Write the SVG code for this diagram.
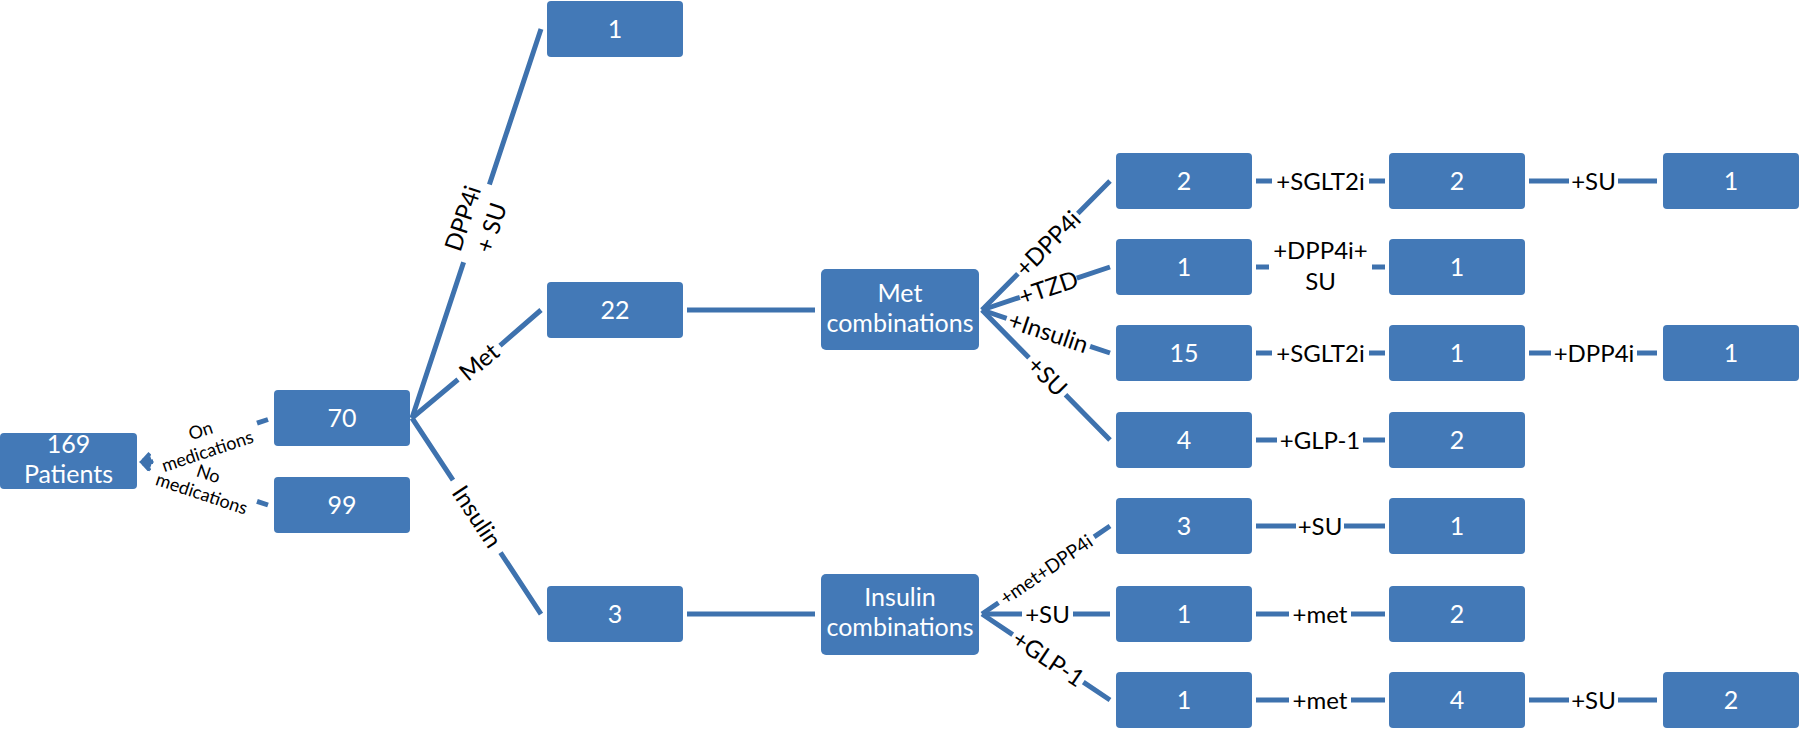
<svg xmlns="http://www.w3.org/2000/svg" width="1800" height="729" viewBox="0 0 1800 729">
<style>
.node rect{fill:#4379B7;}
.node text{fill:#ffffff;font-family:Lato,"Liberation Sans",sans-serif;font-size:25px;text-anchor:middle;}
.conn{stroke:#3E72AE;stroke-width:5;fill:none;}
.lbl{fill:#000000;font-family:Lato,"Liberation Sans",sans-serif;font-size:24px;text-anchor:middle;}
.sm{font-size:18px;}
.xs{font-size:19px;}
</style>
<defs>
<marker id="arr" markerUnits="userSpaceOnUse" markerWidth="20" markerHeight="20" refX="10" refY="6" orient="auto">
<path d="M1,1 L10,6 L1,11" fill="none" stroke="#3E72AE" stroke-width="4"/>
</marker>
</defs>
<rect width="1800" height="729" fill="#ffffff"/>
<g id="connectors">
<path class="conn" d="M268,419.5 L257,423.2 M151,458.3 L143,461" marker-end="url(#arr)"/>
<path class="conn" d="M268,505 L257,501.3 M151,465.7 L143,463" marker-end="url(#arr)"/>
<path class="conn" d="M412,418 L463.6,262.3 M489.4,184.5 L541,29"/>
<path class="conn" d="M412,418 L458,379.5 M500,345.6 L541,310"/>
<path class="conn" d="M412,418 L453,480.2 M500.5,552.5 L541,614"/>
<path class="conn" d="M687,310 L815,310"/>
<path class="conn" d="M687,614 L815,614"/>
<path class="conn" d="M982,310 L1017.9,273.8 M1077.8,213.5 L1110,181"/>
<path class="conn" d="M982,310 L1019.9,297.3 M1076.8,278.2 L1110,267"/>
<path class="conn" d="M982,310 L1006.6,318.3 M1090.1,346.3 L1110,353"/>
<path class="conn" d="M982,310 L1029,357.8 M1065.5,394.8 L1110,440"/>
<path class="conn" d="M982,614 L998.5,602.7 M1094.1,536.9 L1110,526"/>
<path class="conn" d="M982,614 L1022,614 M1073,614 L1110,614"/>
<path class="conn" d="M982,614 L1012.7,634.6 M1083.3,682.1 L1110,700"/>
<path class="conn" d="M1256,181 L1272,181 M1369,181 L1385,181"/>
<path class="conn" d="M1529,181 L1569,181 M1618,181 L1657,181"/>
<path class="conn" d="M1256,267 L1269,267 M1372,267 L1385,267"/>
<path class="conn" d="M1256,353 L1272,353 M1369,353 L1385,353"/>
<path class="conn" d="M1529,353 L1551,353 M1637,353 L1657,353"/>
<path class="conn" d="M1256,440 L1277,440 M1363,440 L1385,440"/>
<path class="conn" d="M1256,526 L1296,526 M1344,526 L1385,526"/>
<path class="conn" d="M1256,614 L1289,614 M1351,614 L1385,614"/>
<path class="conn" d="M1256,700 L1289,700 M1351,700 L1385,700"/>
<path class="conn" d="M1529,700 L1569,700 M1618,700 L1657,700"/>
</g>
<g id="labels">
<g transform="translate(204,441) rotate(-18.4)"><text class="lbl sm" x="0" y="-4.5">On</text><text class="lbl sm" x="0" y="17">medications</text></g>
<g transform="translate(205,484) rotate(18.6)"><text class="lbl sm" x="0" y="-4.5">No</text><text class="lbl sm" x="0" y="16.5">medications</text></g>
<g transform="translate(477,223) rotate(-71.65)"><text class="lbl" x="0" y="-6.5">DPP4i</text><text class="lbl" x="0" y="23.5">+ SU</text></g>
<g transform="translate(479,362) rotate(-39.9)"><text class="lbl" x="0" y="8.5">Met</text></g>
<g transform="translate(477,516.6) rotate(56.6)"><text class="lbl" x="0" y="8.5">Insulin</text></g>
<g transform="translate(1047.9,243.6) rotate(-45.2)"><text class="lbl" x="0" y="8.5">+DPP4i</text></g>
<g transform="translate(1048.4,287.7) rotate(-18.6)"><text class="lbl" x="0" y="8.5">+TZD</text></g>
<g transform="translate(1048.4,332.3) rotate(18.6)"><text class="lbl" x="0" y="8.5">+Insulin</text></g>
<g transform="translate(1047.3,376.3) rotate(45.4)"><text class="lbl" x="0" y="8.5">+SU</text></g>
<g transform="translate(1046.3,569.8) rotate(-34.5)"><text class="lbl xs" x="0" y="6.5">+met+DPP4i</text></g>
<text class="lbl" x="1047.5" y="622.5">+SU</text>
<g transform="translate(1048.4,658.6) rotate(33.9)"><text class="lbl" x="0" y="8.5">+GLP-1</text></g>
<text class="lbl" x="1320.5" y="189.5">+SGLT2i</text>
<text class="lbl" x="1593.5" y="189.5">+SU</text>
<text class="lbl" x="1320.5" y="259">+DPP4i+</text>
<text class="lbl" x="1320.5" y="290">SU</text>
<text class="lbl" x="1320.5" y="361.5">+SGLT2i</text>
<text class="lbl" x="1594" y="361.5">+DPP4i</text>
<text class="lbl" x="1320" y="448.5">+GLP-1</text>
<text class="lbl" x="1320" y="534.5">+SU</text>
<text class="lbl" x="1320" y="622.5">+met</text>
<text class="lbl" x="1320" y="708.5">+met</text>
<text class="lbl" x="1593.5" y="708.5">+SU</text>
</g>
<g id="n169" class="node"><rect x="0" y="433" width="137" height="56" rx="4"/><text x="68.5" y="453">169</text><text x="68.5" y="483">Patients</text></g>
<g id="n70" class="node"><rect x="274" y="390" width="136" height="56" rx="4"/><text x="342" y="427">70</text></g>
<g id="n99" class="node"><rect x="274" y="477" width="136" height="56" rx="4"/><text x="342" y="514">99</text></g>
<g id="nDPP4iSU" class="node"><rect x="547" y="1" width="136" height="56" rx="4"/><text x="615" y="38">1</text></g>
<g id="nMet" class="node"><rect x="547" y="282" width="136" height="56" rx="4"/><text x="615" y="319">22</text></g>
<g id="nInsulin" class="node"><rect x="547" y="586" width="136" height="56" rx="4"/><text x="615" y="623">3</text></g>
<g id="nMetComb" class="node"><rect x="821" y="269" width="158" height="81" rx="5"/><text x="900" y="302">Met</text><text x="900" y="332">combinations</text></g>
<g id="nInsComb" class="node"><rect x="821" y="574" width="158" height="81" rx="5"/><text x="900" y="606">Insulin</text><text x="900" y="636">combinations</text></g>
<g id="r1c3" class="node"><rect x="1116" y="153" width="136" height="56" rx="4"/><text x="1184" y="190">2</text></g>
<g id="r1c4" class="node"><rect x="1389" y="153" width="136" height="56" rx="4"/><text x="1457" y="190">2</text></g>
<g id="r1c5" class="node"><rect x="1663" y="153" width="136" height="56" rx="4"/><text x="1731" y="190">1</text></g>
<g id="r2c3" class="node"><rect x="1116" y="239" width="136" height="56" rx="4"/><text x="1184" y="276">1</text></g>
<g id="r2c4" class="node"><rect x="1389" y="239" width="136" height="56" rx="4"/><text x="1457" y="276">1</text></g>
<g id="r3c3" class="node"><rect x="1116" y="325" width="136" height="56" rx="4"/><text x="1184" y="362">15</text></g>
<g id="r3c4" class="node"><rect x="1389" y="325" width="136" height="56" rx="4"/><text x="1457" y="362">1</text></g>
<g id="r3c5" class="node"><rect x="1663" y="325" width="136" height="56" rx="4"/><text x="1731" y="362">1</text></g>
<g id="r4c3" class="node"><rect x="1116" y="412" width="136" height="56" rx="4"/><text x="1184" y="449">4</text></g>
<g id="r4c4" class="node"><rect x="1389" y="412" width="136" height="56" rx="4"/><text x="1457" y="449">2</text></g>
<g id="r5c3" class="node"><rect x="1116" y="498" width="136" height="56" rx="4"/><text x="1184" y="535">3</text></g>
<g id="r5c4" class="node"><rect x="1389" y="498" width="136" height="56" rx="4"/><text x="1457" y="535">1</text></g>
<g id="r6c3" class="node"><rect x="1116" y="586" width="136" height="56" rx="4"/><text x="1184" y="623">1</text></g>
<g id="r6c4" class="node"><rect x="1389" y="586" width="136" height="56" rx="4"/><text x="1457" y="623">2</text></g>
<g id="r7c3" class="node"><rect x="1116" y="672" width="136" height="56" rx="4"/><text x="1184" y="709">1</text></g>
<g id="r7c4" class="node"><rect x="1389" y="672" width="136" height="56" rx="4"/><text x="1457" y="709">4</text></g>
<g id="r7c5" class="node"><rect x="1663" y="672" width="136" height="56" rx="4"/><text x="1731" y="709">2</text></g>
</svg>
